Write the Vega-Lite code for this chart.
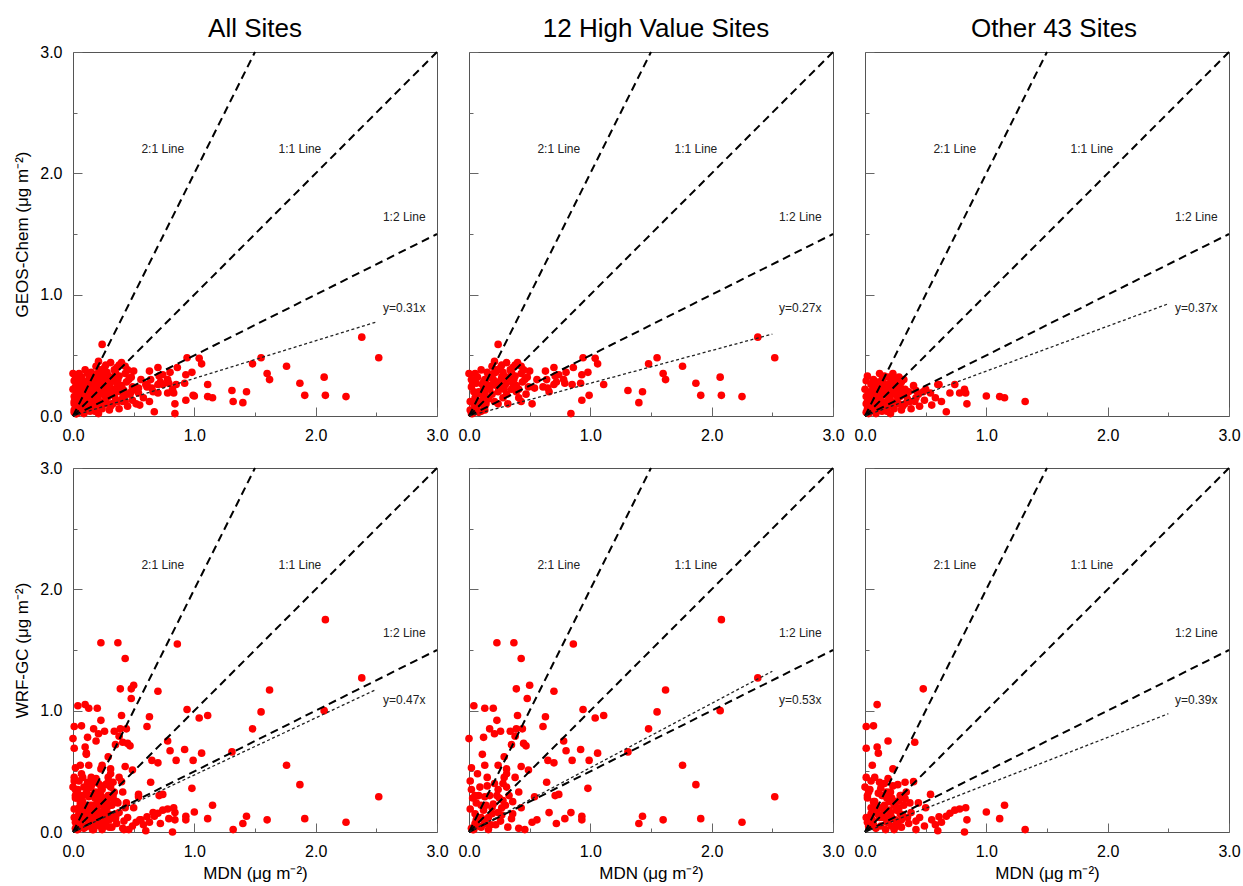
{
"$schema": "https://vega.github.io/schema/vega-lite/v6.json",
"padding": {"left": 13, "top": 15, "right": 2, "bottom": 0},
"background": "white",
"datasets": {
"pts": [
{"g":"H","m":2.52,"gc":0.48,"w":0.29},{"g":"H","m":2.38,"gc":0.65,"w":1.27},{"g":"H","m":2.25,"gc":0.16,"w":0.08},{"g":"H","m":2.08,"gc":0.17,"w":1.75},{"g":"H","m":2.07,"gc":0.32,"w":1.0},{"g":"H","m":1.91,"gc":0.17,"w":0.11},{"g":"H","m":1.87,"gc":0.27,"w":0.39},{"g":"H","m":1.76,"gc":0.41,"w":0.55},{"g":"H","m":1.62,"gc":0.3,"w":1.17},{"g":"H","m":1.6,"gc":0.35,"w":0.1},{"g":"H","m":1.55,"gc":0.48,"w":0.99},{"g":"H","m":1.48,"gc":0.43,"w":0.85},{"g":"H","m":1.43,"gc":0.2,"w":0.13},{"g":"H","m":1.4,"gc":0.11,"w":0.07},{"g":"H","m":1.31,"gc":0.21,"w":0.66},{"g":"H","m":1.11,"gc":0.26,"w":0.96},{"g":"H","m":1.04,"gc":0.475,"w":0.94},{"g":"H","m":1.06,"gc":0.43,"w":0.65},{"g":"H","m":0.94,"gc":0.48,"w":1.01},{"g":"H","m":0.99,"gc":0.17,"w":0.59},{"g":"H","m":0.98,"gc":0.36,"w":0.36},{"g":"H","m":0.92,"gc":0.27,"w":0.68},{"g":"H","m":0.93,"gc":0.34,"w":0.13},{"g":"H","m":0.93,"gc":0.13,"w":0.1},{"g":"H","m":0.86,"gc":0.4,"w":1.55},{"g":"H","m":0.85,"gc":0.26,"w":0.59},{"g":"H","m":0.84,"gc":0.02,"w":0.16},{"g":"H","m":0.8,"gc":0.36,"w":0.67},{"g":"H","m":0.79,"gc":0.27,"w":0.11},{"g":"H","m":0.78,"gc":0.3,"w":0.75},{"g":"H","m":0.7,"gc":0.4,"w":1.16},{"g":"H","m":0.63,"gc":0.37,"w":0.95},{"g":"H","m":0.61,"gc":0.24,"w":0.87},{"g":"H","m":0.65,"gc":0.23,"w":0.59},{"g":"H","m":0.7,"gc":0.26,"w":0.57},{"g":"H","m":0.64,"gc":0.3,"w":0.41},{"g":"H","m":0.54,"gc":0.23,"w":0.29},{"g":"H","m":0.71,"gc":0.33,"w":0.3},{"g":"H","m":0.74,"gc":0.34,"w":0.31},{"g":"H","m":0.66,"gc":0.2,"w":0.16},{"g":"H","m":0.56,"gc":0.3,"w":0.1},{"g":"H","m":0.52,"gc":0.1,"w":0.08},{"g":"H","m":0.72,"gc":0.28,"w":0.07},{"g":"H","m":0.5,"gc":0.37,"w":1.21},{"g":"H","m":0.37,"gc":0.3,"w":1.56},{"g":"H","m":0.43,"gc":0.35,"w":1.43},{"g":"H","m":0.39,"gc":0.25,"w":1.18},{"g":"H","m":0.48,"gc":0.32,"w":1.1},{"g":"H","m":0.4,"gc":0.44,"w":0.96},{"g":"H","m":0.34,"gc":0.38,"w":0.83},{"g":"H","m":0.39,"gc":0.2,"w":0.85},{"g":"H","m":0.44,"gc":0.28,"w":0.85},{"g":"H","m":0.38,"gc":0.33,"w":0.79},{"g":"H","m":0.35,"gc":0.22,"w":0.72},{"g":"H","m":0.45,"gc":0.38,"w":0.73},{"g":"H","m":0.47,"gc":0.18,"w":0.71},{"g":"H","m":0.31,"gc":0.44,"w":0.52},{"g":"H","m":0.43,"gc":0.41,"w":0.54},{"g":"H","m":0.49,"gc":0.24,"w":0.51},{"g":"H","m":0.31,"gc":0.3,"w":0.48},{"g":"H","m":0.41,"gc":0.15,"w":0.33},{"g":"H","m":0.31,"gc":0.18,"w":0.37},{"g":"H","m":0.3,"gc":0.26,"w":0.22},{"g":"H","m":0.43,"gc":0.12,"w":0.2},{"g":"H","m":0.35,"gc":0.36,"w":0.11},{"g":"H","m":0.32,"gc":0.1,"w":0.04},{"g":"H","m":0.41,"gc":0.22,"w":0.03},{"g":"H","m":0.46,"gc":0.3,"w":0.02},{"g":"H","m":0.23,"gc":0.25,"w":1.56},{"g":"H","m":0.04,"gc":0.2,"w":1.04},{"g":"H","m":0.13,"gc":0.3,"w":1.02},{"g":"H","m":0.2,"gc":0.35,"w":1.02},{"g":"H","m":0.23,"gc":0.28,"w":0.92},{"g":"H","m":0.17,"gc":0.22,"w":0.85},{"g":"H","m":0.26,"gc":0.4,"w":0.83},{"g":"H","m":0.21,"gc":0.45,"w":0.81},{"g":"H","m":0.12,"gc":0.15,"w":0.78},{"g":"H","m":0.0,"gc":0.35,"w":0.77},{"g":"H","m":0.11,"gc":0.26,"w":0.64},{"g":"H","m":0.29,"gc":0.33,"w":0.62},{"g":"H","m":0.02,"gc":0.24,"w":0.53},{"g":"H","m":0.13,"gc":0.18,"w":0.55},{"g":"H","m":0.24,"gc":0.59,"w":0.55},{"g":"H","m":0.07,"gc":0.32,"w":0.48},{"g":"H","m":0.02,"gc":0.3,"w":0.35},{"g":"H","m":0.09,"gc":0.12,"w":0.37},{"g":"H","m":0.15,"gc":0.36,"w":0.38},{"g":"H","m":0.24,"gc":0.2,"w":0.35},{"g":"H","m":0.23,"gc":0.38,"w":0.3},{"g":"H","m":0.28,"gc":0.15,"w":0.26},{"g":"H","m":0.13,"gc":0.08,"w":0.29},{"g":"H","m":0.06,"gc":0.27,"w":0.24},{"g":"H","m":0.2,"gc":0.3,"w":0.23},{"g":"H","m":0.01,"gc":0.05,"w":0.19},{"g":"H","m":0.12,"gc":0.22,"w":0.18},{"g":"H","m":0.24,"gc":0.1,"w":0.16},{"g":"H","m":0.13,"gc":0.05,"w":0.07},{"g":"H","m":0.05,"gc":0.15,"w":0.07},{"g":"H","m":0.03,"gc":0.02,"w":0.02},{"g":"H","m":0.06,"gc":0.06,"w":0.1},{"g":"H","m":0.08,"gc":0.03,"w":0.05},{"g":"H","m":0.1,"gc":0.1,"w":0.12},{"g":"H","m":0.16,"gc":0.14,"w":0.12},{"g":"H","m":0.18,"gc":0.25,"w":0.06},{"g":"H","m":0.27,"gc":0.32,"w":0.14},{"g":"H","m":0.19,"gc":0.41,"w":0.2},{"g":"H","m":0.26,"gc":0.24,"w":0.09},{"g":"H","m":0.36,"gc":0.27,"w":0.15},{"g":"H","m":0.38,"gc":0.42,"w":0.45},{"g":"H","m":0.15,"gc":0.31,"w":0.45},{"g":"H","m":0.28,"gc":0.36,"w":0.4},{"g":"H","m":0.02,"gc":0.02,"w":0.03},{"g":"H","m":0.04,"gc":0.1,"w":0.02},
{"g":"H","m":0.01,"gc":0.12,"w":0.42},{"g":"H","m":0.03,"gc":0.28,"w":0.28},{"g":"H","m":0.05,"gc":0.35,"w":0.15},{"g":"H","m":0.08,"gc":0.2,"w":0.3},{"g":"H","m":0.1,"gc":0.38,"w":0.22},{"g":"H","m":0.12,"gc":0.28,"w":0.1},{"g":"H","m":0.14,"gc":0.1,"w":0.22},{"g":"H","m":0.17,"gc":0.32,"w":0.3},{"g":"H","m":0.19,"gc":0.18,"w":0.15},{"g":"H","m":0.21,"gc":0.12,"w":0.4},{"g":"H","m":0.22,"gc":0.36,"w":0.06},{"g":"H","m":0.25,"gc":0.28,"w":0.28},{"g":"H","m":0.27,"gc":0.42,"w":0.2},{"g":"H","m":0.29,"gc":0.22,"w":0.45},{"g":"H","m":0.33,"gc":0.32,"w":0.3},{"g":"H","m":0.36,"gc":0.4,"w":0.25},{"g":"H","m":0.05,"gc":0.08,"w":0.3},{"g":"H","m":0.07,"gc":0.18,"w":0.12},{"g":"H","m":0.1,"gc":0.04,"w":0.04},{"g":"H","m":0.16,"gc":0.25,"w":0.02},
{"g":"O","m":1.32,"gc":0.12,"w":0.02},{"g":"O","m":1.15,"gc":0.15,"w":0.22},{"g":"O","m":1.11,"gc":0.16,"w":0.11},{"g":"O","m":1.0,"gc":0.165,"w":0.165},{"g":"O","m":0.84,"gc":0.1,"w":0.1},{"g":"O","m":0.83,"gc":0.19,"w":0.2},{"g":"O","m":0.82,"gc":0.22,"w":0.0},{"g":"O","m":0.74,"gc":0.26,"w":0.18},{"g":"O","m":0.7,"gc":0.19,"w":0.155},{"g":"O","m":0.67,"gc":0.035,"w":0.13},{"g":"O","m":0.63,"gc":0.12,"w":0.08},{"g":"O","m":0.61,"gc":0.26,"w":0.125},{"g":"O","m":0.6,"gc":0.26,"w":0.01},{"g":"O","m":0.54,"gc":0.19,"w":0.31},{"g":"O","m":0.55,"gc":0.09,"w":0.1},{"g":"O","m":0.49,"gc":0.13,"w":0.05},{"g":"O","m":0.48,"gc":0.2,"w":1.18},{"g":"O","m":0.44,"gc":0.18,"w":0.24},{"g":"O","m":0.42,"gc":0.21,"w":0.09},{"g":"O","m":0.42,"gc":0.15,"w":0.02},{"g":"O","m":0.41,"gc":0.12,"w":0.74},{"g":"O","m":0.4,"gc":0.25,"w":0.415},{"g":"O","m":0.78,"gc":0.19,"w":0.19},{"g":"O","m":0.01,"gc":0.29,"w":0.87},{"g":"O","m":0.23,"gc":0.35,"w":0.52},{"g":"O","m":0.25,"gc":0.31,"w":0.1},{"g":"O","m":0.3,"gc":0.28,"w":0.3},{"g":"O","m":0.19,"gc":0.26,"w":0.75},{"g":"O","m":0.12,"gc":0.25,"w":0.41},{"g":"O","m":0.1,"gc":0.2,"w":1.05},{"g":"O","m":0.07,"gc":0.22,"w":0.875},{"g":"O","m":0.01,"gc":0.16,"w":0.69},{"g":"O","m":0.1,"gc":0.12,"w":0.7},{"g":"O","m":0.11,"gc":0.18,"w":0.65},{"g":"O","m":0.01,"gc":0.1,"w":0.45},{"g":"O","m":0.08,"gc":0.14,"w":0.45},{"g":"O","m":0.19,"gc":0.2,"w":0.44},{"g":"O","m":0.27,"gc":0.24,"w":0.39},{"g":"O","m":0.33,"gc":0.22,"w":0.41},{"g":"O","m":0.0,"gc":0.22,"w":0.37},{"g":"O","m":0.29,"gc":0.16,"w":0.3},{"g":"O","m":0.33,"gc":0.1,"w":0.275},{"g":"O","m":0.05,"gc":0.05,"w":0.2},{"g":"O","m":0.15,"gc":0.1,"w":0.15},{"g":"O","m":0.2,"gc":0.15,"w":0.25},{"g":"O","m":0.03,"gc":0.02,"w":0.05},{"g":"O","m":0.06,"gc":0.08,"w":0.1},{"g":"O","m":0.12,"gc":0.05,"w":0.2},{"g":"O","m":0.17,"gc":0.22,"w":0.12},{"g":"O","m":0.22,"gc":0.08,"w":0.05},{"g":"O","m":0.26,"gc":0.12,"w":0.18},{"g":"O","m":0.35,"gc":0.14,"w":0.12},{"g":"O","m":0.3,"gc":0.05,"w":0.04},{"g":"O","m":0.14,"gc":0.3,"w":0.3},{"g":"O","m":0.02,"gc":0.12,"w":0.28},{"g":"O","m":0.08,"gc":0.27,"w":0.18},{"g":"O","m":0.18,"gc":0.04,"w":0.08},{"g":"O","m":0.24,"gc":0.18,"w":0.02},{"g":"O","m":0.38,"gc":0.06,"w":0.16},{"g":"O","m":0.36,"gc":0.2,"w":0.07},{"g":"O","m":0.04,"gc":0.2,"w":0.12},{"g":"O","m":0.09,"gc":0.02,"w":0.03},{"g":"O","m":0.28,"gc":0.32,"w":0.2},{"g":"O","m":0.21,"gc":0.26,"w":0.33},{"g":"O","m":0.13,"gc":0.15,"w":0.36},{"g":"O","m":0.16,"gc":0.33,"w":0.22},{"g":"O","m":0.31,"gc":0.08,"w":0.14},{"g":"O","m":0.06,"gc":0.18,"w":0.55},{"g":"O","m":0.22,"gc":0.12,"w":0.28},{"g":"O","m":0.01,"gc":0.03,"w":0.12},
{"g":"O","m":0.02,"gc":0.33,"w":0.3},{"g":"O","m":0.05,"gc":0.26,"w":0.42},{"g":"O","m":0.03,"gc":0.18,"w":0.33},{"g":"O","m":0.07,"gc":0.12,"w":0.25},{"g":"O","m":0.1,"gc":0.28,"w":0.15},{"g":"O","m":0.13,"gc":0.22,"w":0.05},{"g":"O","m":0.16,"gc":0.18,"w":0.4},{"g":"O","m":0.18,"gc":0.12,"w":0.28},{"g":"O","m":0.2,"gc":0.24,"w":0.18},{"g":"O","m":0.22,"gc":0.3,"w":0.12},{"g":"O","m":0.25,"gc":0.2,"w":0.25},{"g":"O","m":0.27,"gc":0.16,"w":0.08},{"g":"O","m":0.29,"gc":0.24,"w":0.15},{"g":"O","m":0.32,"gc":0.3,"w":0.22},{"g":"O","m":0.34,"gc":0.18,"w":0.33},{"g":"O","m":0.37,"gc":0.12,"w":0.24},{"g":"O","m":0.04,"gc":0.08,"w":0.35},{"g":"O","m":0.07,"gc":0.3,"w":0.06},{"g":"O","m":0.09,"gc":0.06,"w":0.22},{"g":"O","m":0.11,"gc":0.1,"w":0.32},{"g":"O","m":0.14,"gc":0.04,"w":0.12},{"g":"O","m":0.17,"gc":0.08,"w":0.02},{"g":"O","m":0.19,"gc":0.32,"w":0.08},{"g":"O","m":0.21,"gc":0.02,"w":0.15},{"g":"O","m":0.23,"gc":0.22,"w":0.38},{"g":"O","m":0.26,"gc":0.28,"w":0.05},{"g":"O","m":0.28,"gc":0.1,"w":0.26},{"g":"O","m":0.3,"gc":0.2,"w":0.1},{"g":"O","m":0.02,"gc":0.06,"w":0.08},{"g":"O","m":0.05,"gc":0.14,"w":0.15},{"g":"O","m":0.08,"gc":0.2,"w":0.25},{"g":"O","m":0.12,"gc":0.35,"w":0.12},{"g":"O","m":0.15,"gc":0.27,"w":0.2},{"g":"O","m":0.18,"gc":0.18,"w":0.33},{"g":"O","m":0.24,"gc":0.06,"w":0.22},{"g":"O","m":0.45,"gc":0.08,"w":0.12},{"g":"O","m":0.5,"gc":0.22,"w":0.2},{"g":"O","m":0.58,"gc":0.15,"w":0.06}
],
"refs": [{"x":0,"y":0,"x2":1.5,"y2":3},{"x":0,"y":0,"x2":3,"y2":3},{"x":0,"y":0,"x2":3,"y2":1.5}],
"reflab": [{"t":"2:1 Line","x":0.74,"y":2.2},{"t":"1:1 Line","x":1.87,"y":2.2},{"t":"1:2 Line","x":2.73,"y":1.64}],
"fits": [
{"p":"A","r":"gc","x":0,"y":0,"x2":2.5,"y2":0.775,"t":"y=0.31x","tx":2.73,"ty":0.89},
{"p":"H","r":"gc","x":0,"y":0,"x2":2.5,"y2":0.675,"t":"y=0.27x","tx":2.73,"ty":0.89},
{"p":"O","r":"gc","x":0,"y":0,"x2":2.5,"y2":0.925,"t":"y=0.37x","tx":2.73,"ty":0.89},
{"p":"A","r":"w","x":0,"y":0,"x2":2.5,"y2":1.175,"t":"y=0.47x","tx":2.73,"ty":1.09},
{"p":"H","r":"w","x":0,"y":0,"x2":2.5,"y2":1.325,"t":"y=0.53x","tx":2.73,"ty":1.09},
{"p":"O","r":"w","x":0,"y":0,"x2":2.5,"y2":0.975,"t":"y=0.39x","tx":2.73,"ty":1.09}
]
},
"vconcat": [
{"hconcat": [
{"width":364,"height":364,"title":{"text":"All Sites","offset":2},"layer":[
 {"data":{"name":"pts"},"mark":{"type":"circle","size":58,"color":"#ff0000","opacity":1},
  "encoding":{"x":{"field":"m","type":"quantitative","scale":{"domain":[0,3],"nice":false},"axis":{"title":null,"values":[0,0.25,0.5,0.75,1,1.25,1.5,1.75,2,2.25,2.5,2.75,3],"tickSize":{"condition":{"test":"datum.value % 1 === 0","value":-9},"value":-4},"labelExpr":"datum.value % 1 === 0 ? format(datum.value, '.1f') : ''"}},
   "y":{"field":"gc","type":"quantitative","scale":{"domain":[0,3],"nice":false},"axis":{"title":"GEOS-Chem (μg m⁻²)","values":[0,0.25,0.5,0.75,1,1.25,1.5,1.75,2,2.25,2.5,2.75,3],"tickSize":{"condition":{"test":"datum.value % 1 === 0","value":-9},"value":-4},"labelExpr":"datum.value % 1 === 0 ? format(datum.value, '.1f') : ''"}}}},
 {"data":{"name":"refs"},"mark":{"type":"rule","color":"#000","strokeWidth":2,"strokeDash":[8,5]},
  "encoding":{"x":{"field":"x","type":"quantitative"},"y":{"field":"y","type":"quantitative"},"x2":{"field":"x2"},"y2":{"field":"y2"}}},
 {"data":{"name":"fits"},"transform":[{"filter":"datum.p === 'A' && datum.r === 'gc'"}],"mark":{"type":"rule","color":"#222","strokeWidth":1.3,"strokeDash":[3,2.5]},
  "encoding":{"x":{"field":"x","type":"quantitative"},"y":{"field":"y","type":"quantitative"},"x2":{"field":"x2"},"y2":{"field":"y2"}}},
 {"data":{"name":"reflab"},"mark":{"type":"text","font":"Liberation Sans","fontSize":12,"color":"#222"},
  "encoding":{"x":{"field":"x","type":"quantitative"},"y":{"field":"y","type":"quantitative"},"text":{"field":"t"}}},
 {"data":{"name":"fits"},"transform":[{"filter":"datum.p === 'A' && datum.r === 'gc'"}],"mark":{"type":"text","font":"Liberation Sans","fontSize":12,"color":"#222"},
  "encoding":{"x":{"field":"tx","type":"quantitative"},"y":{"field":"ty","type":"quantitative"},"text":{"field":"t"}}}
]},
{"width":364,"height":364,"title":{"text":"12 High Value Sites","dx":5,"offset":9},"layer":[
 {"data":{"name":"pts"},"transform":[{"filter":"datum.g === 'H'"}],"mark":{"type":"circle","size":58,"color":"#ff0000","opacity":1},
  "encoding":{"x":{"field":"m","type":"quantitative","scale":{"domain":[0,3],"nice":false},"axis":{"title":null,"values":[0,0.25,0.5,0.75,1,1.25,1.5,1.75,2,2.25,2.5,2.75,3],"tickSize":{"condition":{"test":"datum.value % 1 === 0","value":-9},"value":-4},"labelExpr":"datum.value % 1 === 0 ? format(datum.value, '.1f') : ''"}},
   "y":{"field":"gc","type":"quantitative","scale":{"domain":[0,3],"nice":false},"axis":{"title":null,"labels":false,"values":[0,0.25,0.5,0.75,1,1.25,1.5,1.75,2,2.25,2.5,2.75,3],"tickSize":{"condition":{"test":"datum.value % 1 === 0","value":-9},"value":-4}}}}},
 {"data":{"name":"refs"},"mark":{"type":"rule","color":"#000","strokeWidth":2,"strokeDash":[8,5]},
  "encoding":{"x":{"field":"x","type":"quantitative"},"y":{"field":"y","type":"quantitative"},"x2":{"field":"x2"},"y2":{"field":"y2"}}},
 {"data":{"name":"fits"},"transform":[{"filter":"datum.p === 'H' && datum.r === 'gc'"}],"mark":{"type":"rule","color":"#222","strokeWidth":1.3,"strokeDash":[3,2.5]},
  "encoding":{"x":{"field":"x","type":"quantitative"},"y":{"field":"y","type":"quantitative"},"x2":{"field":"x2"},"y2":{"field":"y2"}}},
 {"data":{"name":"reflab"},"mark":{"type":"text","font":"Liberation Sans","fontSize":12,"color":"#222"},
  "encoding":{"x":{"field":"x","type":"quantitative"},"y":{"field":"y","type":"quantitative"},"text":{"field":"t"}}},
 {"data":{"name":"fits"},"transform":[{"filter":"datum.p === 'H' && datum.r === 'gc'"}],"mark":{"type":"text","font":"Liberation Sans","fontSize":12,"color":"#222"},
  "encoding":{"x":{"field":"tx","type":"quantitative"},"y":{"field":"ty","type":"quantitative"},"text":{"field":"t"}}}
]},
{"width":364,"height":364,"title":{"text":"Other 43 Sites","dx":7,"offset":9},"layer":[
 {"data":{"name":"pts"},"transform":[{"filter":"datum.g === 'O'"}],"mark":{"type":"circle","size":58,"color":"#ff0000","opacity":1},
  "encoding":{"x":{"field":"m","type":"quantitative","scale":{"domain":[0,3],"nice":false},"axis":{"title":null,"values":[0,0.25,0.5,0.75,1,1.25,1.5,1.75,2,2.25,2.5,2.75,3],"tickSize":{"condition":{"test":"datum.value % 1 === 0","value":-9},"value":-4},"labelExpr":"datum.value % 1 === 0 ? format(datum.value, '.1f') : ''"}},
   "y":{"field":"gc","type":"quantitative","scale":{"domain":[0,3],"nice":false},"axis":{"title":null,"labels":false,"values":[0,0.25,0.5,0.75,1,1.25,1.5,1.75,2,2.25,2.5,2.75,3],"tickSize":{"condition":{"test":"datum.value % 1 === 0","value":-9},"value":-4}}}}},
 {"data":{"name":"refs"},"mark":{"type":"rule","color":"#000","strokeWidth":2,"strokeDash":[8,5]},
  "encoding":{"x":{"field":"x","type":"quantitative"},"y":{"field":"y","type":"quantitative"},"x2":{"field":"x2"},"y2":{"field":"y2"}}},
 {"data":{"name":"fits"},"transform":[{"filter":"datum.p === 'O' && datum.r === 'gc'"}],"mark":{"type":"rule","color":"#222","strokeWidth":1.3,"strokeDash":[3,2.5]},
  "encoding":{"x":{"field":"x","type":"quantitative"},"y":{"field":"y","type":"quantitative"},"x2":{"field":"x2"},"y2":{"field":"y2"}}},
 {"data":{"name":"reflab"},"mark":{"type":"text","font":"Liberation Sans","fontSize":12,"color":"#222"},
  "encoding":{"x":{"field":"x","type":"quantitative"},"y":{"field":"y","type":"quantitative"},"text":{"field":"t"}}},
 {"data":{"name":"fits"},"transform":[{"filter":"datum.p === 'O' && datum.r === 'gc'"}],"mark":{"type":"text","font":"Liberation Sans","fontSize":12,"color":"#222"},
  "encoding":{"x":{"field":"tx","type":"quantitative"},"y":{"field":"ty","type":"quantitative"},"text":{"field":"t"}}}
]}
], "spacing": 32, "bounds": "flush"},
{"hconcat": [
{"width":364,"height":364,"layer":[
 {"data":{"name":"pts"},"mark":{"type":"circle","size":58,"color":"#ff0000","opacity":1},
  "encoding":{"x":{"field":"m","type":"quantitative","scale":{"domain":[0,3],"nice":false},"axis":{"title":"MDN (μg m⁻²)","values":[0,0.25,0.5,0.75,1,1.25,1.5,1.75,2,2.25,2.5,2.75,3],"tickSize":{"condition":{"test":"datum.value % 1 === 0","value":-9},"value":-4},"labelExpr":"datum.value % 1 === 0 ? format(datum.value, '.1f') : ''"}},
   "y":{"field":"w","type":"quantitative","scale":{"domain":[0,3],"nice":false},"axis":{"title":"WRF-GC (μg m⁻²)","values":[0,0.25,0.5,0.75,1,1.25,1.5,1.75,2,2.25,2.5,2.75,3],"tickSize":{"condition":{"test":"datum.value % 1 === 0","value":-9},"value":-4},"labelExpr":"datum.value % 1 === 0 ? format(datum.value, '.1f') : ''"}}}},
 {"data":{"name":"refs"},"mark":{"type":"rule","color":"#000","strokeWidth":2,"strokeDash":[8,5]},
  "encoding":{"x":{"field":"x","type":"quantitative"},"y":{"field":"y","type":"quantitative"},"x2":{"field":"x2"},"y2":{"field":"y2"}}},
 {"data":{"name":"fits"},"transform":[{"filter":"datum.p === 'A' && datum.r === 'w'"}],"mark":{"type":"rule","color":"#222","strokeWidth":1.3,"strokeDash":[3,2.5]},
  "encoding":{"x":{"field":"x","type":"quantitative"},"y":{"field":"y","type":"quantitative"},"x2":{"field":"x2"},"y2":{"field":"y2"}}},
 {"data":{"name":"reflab"},"mark":{"type":"text","font":"Liberation Sans","fontSize":12,"color":"#222"},
  "encoding":{"x":{"field":"x","type":"quantitative"},"y":{"field":"y","type":"quantitative"},"text":{"field":"t"}}},
 {"data":{"name":"fits"},"transform":[{"filter":"datum.p === 'A' && datum.r === 'w'"}],"mark":{"type":"text","font":"Liberation Sans","fontSize":12,"color":"#222"},
  "encoding":{"x":{"field":"tx","type":"quantitative"},"y":{"field":"ty","type":"quantitative"},"text":{"field":"t"}}}
]},
{"width":364,"height":364,"layer":[
 {"data":{"name":"pts"},"transform":[{"filter":"datum.g === 'H'"}],"mark":{"type":"circle","size":58,"color":"#ff0000","opacity":1},
  "encoding":{"x":{"field":"m","type":"quantitative","scale":{"domain":[0,3],"nice":false},"axis":{"title":"MDN (μg m⁻²)","values":[0,0.25,0.5,0.75,1,1.25,1.5,1.75,2,2.25,2.5,2.75,3],"tickSize":{"condition":{"test":"datum.value % 1 === 0","value":-9},"value":-4},"labelExpr":"datum.value % 1 === 0 ? format(datum.value, '.1f') : ''"}},
   "y":{"field":"w","type":"quantitative","scale":{"domain":[0,3],"nice":false},"axis":{"title":null,"labels":false,"values":[0,0.25,0.5,0.75,1,1.25,1.5,1.75,2,2.25,2.5,2.75,3],"tickSize":{"condition":{"test":"datum.value % 1 === 0","value":-9},"value":-4}}}}},
 {"data":{"name":"refs"},"mark":{"type":"rule","color":"#000","strokeWidth":2,"strokeDash":[8,5]},
  "encoding":{"x":{"field":"x","type":"quantitative"},"y":{"field":"y","type":"quantitative"},"x2":{"field":"x2"},"y2":{"field":"y2"}}},
 {"data":{"name":"fits"},"transform":[{"filter":"datum.p === 'H' && datum.r === 'w'"}],"mark":{"type":"rule","color":"#222","strokeWidth":1.3,"strokeDash":[3,2.5]},
  "encoding":{"x":{"field":"x","type":"quantitative"},"y":{"field":"y","type":"quantitative"},"x2":{"field":"x2"},"y2":{"field":"y2"}}},
 {"data":{"name":"reflab"},"mark":{"type":"text","font":"Liberation Sans","fontSize":12,"color":"#222"},
  "encoding":{"x":{"field":"x","type":"quantitative"},"y":{"field":"y","type":"quantitative"},"text":{"field":"t"}}},
 {"data":{"name":"fits"},"transform":[{"filter":"datum.p === 'H' && datum.r === 'w'"}],"mark":{"type":"text","font":"Liberation Sans","fontSize":12,"color":"#222"},
  "encoding":{"x":{"field":"tx","type":"quantitative"},"y":{"field":"ty","type":"quantitative"},"text":{"field":"t"}}}
]},
{"width":364,"height":364,"layer":[
 {"data":{"name":"pts"},"transform":[{"filter":"datum.g === 'O'"}],"mark":{"type":"circle","size":58,"color":"#ff0000","opacity":1},
  "encoding":{"x":{"field":"m","type":"quantitative","scale":{"domain":[0,3],"nice":false},"axis":{"title":"MDN (μg m⁻²)","values":[0,0.25,0.5,0.75,1,1.25,1.5,1.75,2,2.25,2.5,2.75,3],"tickSize":{"condition":{"test":"datum.value % 1 === 0","value":-9},"value":-4},"labelExpr":"datum.value % 1 === 0 ? format(datum.value, '.1f') : ''"}},
   "y":{"field":"w","type":"quantitative","scale":{"domain":[0,3],"nice":false},"axis":{"title":null,"labels":false,"values":[0,0.25,0.5,0.75,1,1.25,1.5,1.75,2,2.25,2.5,2.75,3],"tickSize":{"condition":{"test":"datum.value % 1 === 0","value":-9},"value":-4}}}}},
 {"data":{"name":"refs"},"mark":{"type":"rule","color":"#000","strokeWidth":2,"strokeDash":[8,5]},
  "encoding":{"x":{"field":"x","type":"quantitative"},"y":{"field":"y","type":"quantitative"},"x2":{"field":"x2"},"y2":{"field":"y2"}}},
 {"data":{"name":"fits"},"transform":[{"filter":"datum.p === 'O' && datum.r === 'w'"}],"mark":{"type":"rule","color":"#222","strokeWidth":1.3,"strokeDash":[3,2.5]},
  "encoding":{"x":{"field":"x","type":"quantitative"},"y":{"field":"y","type":"quantitative"},"x2":{"field":"x2"},"y2":{"field":"y2"}}},
 {"data":{"name":"reflab"},"mark":{"type":"text","font":"Liberation Sans","fontSize":12,"color":"#222"},
  "encoding":{"x":{"field":"x","type":"quantitative"},"y":{"field":"y","type":"quantitative"},"text":{"field":"t"}}},
 {"data":{"name":"fits"},"transform":[{"filter":"datum.p === 'O' && datum.r === 'w'"}],"mark":{"type":"text","font":"Liberation Sans","fontSize":12,"color":"#222"},
  "encoding":{"x":{"field":"tx","type":"quantitative"},"y":{"field":"ty","type":"quantitative"},"text":{"field":"t"}}}
]}
], "spacing": 32, "bounds": "flush"}
],
"spacing": 10,
"config": {
 "font": "Liberation Sans",
 "view": {"stroke": "#555", "strokeWidth": 1},
 "axis": {"domain": false, "grid": false, "labelFont": "Liberation Sans", "labelFontSize": 16, "labelColor": "#000", "labelPadding": 20, "labelOverlap": false, "labelFlush": false, "tickColor": "#666", "tickWidth": 1, "titleFont": "Liberation Sans", "titleFontSize": 17, "titleFontWeight": "normal", "titleColor": "#000"},
 "axisY": {"titlePadding": 8},
 "axisX": {"titlePadding": 1},
 "title": {"font": "Liberation Sans", "fontSize": 26, "fontWeight": "normal", "color": "#000", "frame": "group", "offset": 14}
}
}
